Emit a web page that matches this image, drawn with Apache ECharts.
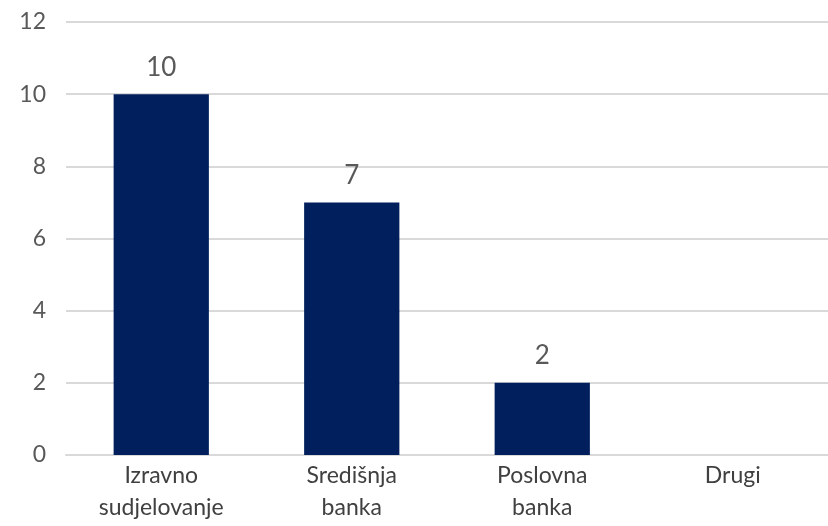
<!DOCTYPE html>
<html>
<head>
<meta charset="utf-8">
<script src="https://cdn.jsdelivr.net/npm/echarts@6/dist/echarts.min.js"></script>
<style>html,body{margin:0;padding:0;background:#fff}#c{width:828px;height:526px}</style>
</head>
<body>
<div id="c"></div>
<script>
const categories = ['Izravno\nsudjelovanje', 'Središnja\nbanka', 'Poslovna\nbanka', 'Drugi'];
const values = [10, 7, 2, null];
const yTicks = [0, 2, 4, 6, 8, 10, 12];

const chart = echarts.init(document.getElementById('c'));
chart.setOption({
  animation: false,
  textStyle: { fontFamily: 'Lato' },
  grid: { left: 66, right: 0, top: 22, bottom: 71 },
  xAxis: {
    type: 'category',
    data: categories,
    axisLine: { show: true, lineStyle: { color: '#d9d9d9', width: 2 } },
    axisTick: { show: false },
    axisLabel: { color: '#404040', fontSize: 23, lineHeight: 32, margin: 5, fontFamily: 'Lato' }
  },
  yAxis: {
    type: 'value',
    min: yTicks[0],
    max: yTicks[yTicks.length - 1],
    interval: 2,
    axisLine: { show: false },
    axisTick: { show: false },
    splitLine: { lineStyle: { color: '#d9d9d9', width: 2 } },
    axisLabel: { color: '#595959', fontSize: 23, margin: 20, fontFamily: 'Lato' }
  },
  series: [{
    type: 'bar',
    data: values,
    barWidth: '50%',
    itemStyle: { color: '#001f5c' },
    label: { show: true, position: 'top', distance: 14, color: '#595959', fontSize: 26, fontFamily: 'Lato' }
  }]
});
</script>
</body>
</html>
